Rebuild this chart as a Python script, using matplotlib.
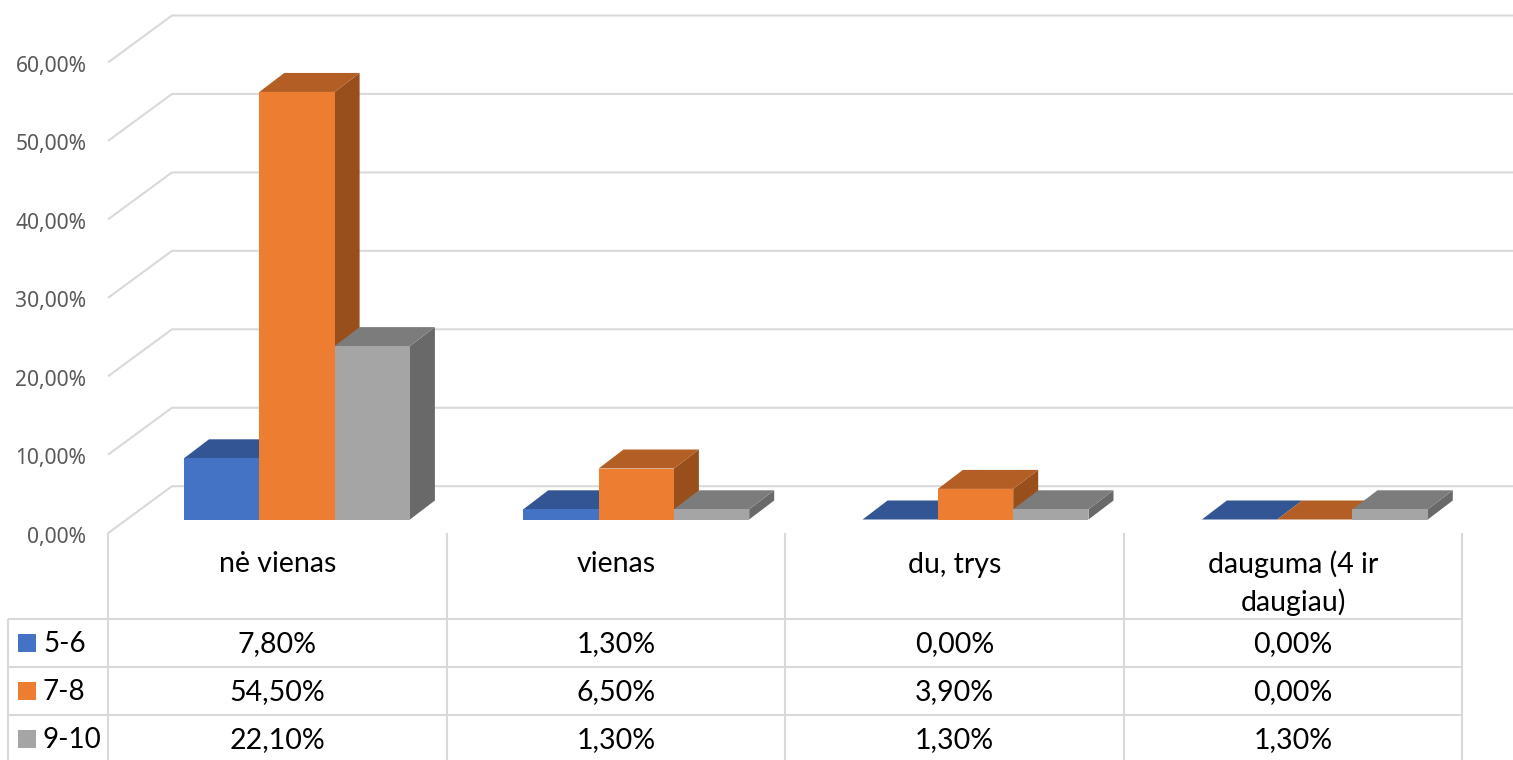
import matplotlib
matplotlib.use("Agg")
import matplotlib.pyplot as plt
from matplotlib.patches import Polygon, Rectangle

# duomenys
categories = ['nė vienas', 'vienas', 'du, trys', 'dauguma (4 ir\ndaugiau)']
series_names = ['5-6', '7-8', '9-10']
values_56 = [7.8, 1.3, 0.0, 0.0]
values_78 = [54.5, 6.5, 3.9, 0.0]
values_910 = [22.1, 1.3, 1.3, 1.3]
y_ticks = [0, 10, 20, 30, 40, 50, 60]

# front, top, side colours
colors = [('#4472C4', '#335593', '#294679'),
          ('#ED7D31', '#B25E24', '#994F1B'),
          ('#A5A5A5', '#7C7C7C', '#696969')]
GRID = '#D9D9D9'
TABLE_FONT = ['Lato', 'DejaVu Sans']
TABLE_SIZE = 20.5

plt.rcParams['font.family'] = ['Noto Sans', 'DejaVu Sans']

W, H = 1513, 760
fig = plt.figure(figsize=(W / 100, H / 100), dpi=100)

# pixel scale of the plot
PX_X0, PX_CAT = 108, 339.3
PX_Y0, PX_PCT = 519.5, 7.845
COL_W = 338.6

# chart axes: x = category number, y = percent
ax = fig.add_axes([0, 0, 1, 1])
ax.set_xlim((0 - PX_X0) / PX_CAT, (W - PX_X0) / PX_CAT)
ax.set_ylim((PX_Y0 - H) / PX_PCT, PX_Y0 / PX_PCT)
ax.axis('off')

# pixel axes for table and labels
px = fig.add_axes([0, 0, 1, 1], zorder=3)
px.set_xlim(0, W)
px.set_ylim(H, 0)
px.axis('off')
px.patch.set_alpha(0)

# wall and floor gridlines
wall_dx, wall_dy = 64 / PX_CAT, 47 / PX_PCT
floor = -13.7 / PX_PCT
for t in y_ticks:
    y = floor + t
    ax.plot([0, wall_dx, (W - PX_X0) / PX_CAT], [y, y + wall_dy, y + wall_dy],
            color=GRID, lw=1.5, solid_capstyle='butt', zorder=1)
    px.text(86.5, 542.5 - t * PX_PCT, f'{t},00%', ha='right', va='baseline',
            fontsize=15.1, color='#595959')

# 3d bars
bar_w = 75.3 / PX_CAT
first = 76 / PX_CAT
dx, dy = 25 / PX_CAT, 19 / PX_PCT
all_values = [values_56, values_78, values_910]
for s, vals in enumerate(all_values):
    front, top, side = colors[s]
    for c, v in enumerate(vals):
        x0 = c + first + s * bar_w
        x1 = x0 + bar_w
        ax.add_patch(Polygon([(x1, 0), (x1 + dx, dy), (x1 + dx, v + dy), (x1, v)],
                             fc=side, ec='none', zorder=2 + s + c * 5))
        ax.add_patch(Polygon([(x0, v), (x0 + dx, v + dy), (x1 + dx, v + dy), (x1, v)],
                             fc=top, ec='none', zorder=2 + s + c * 5))
        ax.add_patch(Rectangle((x0, 0), bar_w, v, fc=front, ec='none',
                               zorder=2.5 + s + c * 5))

# table under the chart
col_x = [PX_X0 + i * COL_W for i in range(5)]
row_y = [619, 667, 715, 763]
for x in col_x:
    px.plot([x, x], [533, H], color=GRID, lw=1.5, solid_capstyle='butt')
px.plot([8, 8], [row_y[0], H], color=GRID, lw=1.5, solid_capstyle='butt')
for y in row_y[:3]:
    px.plot([8, col_x[-1]], [y, y], color=GRID, lw=1.5, solid_capstyle='butt')

for c, name in enumerate(categories):
    cx = col_x[c] + COL_W / 2
    lines = name.split('\n')
    px.text(cx, 572.5, lines[0], ha='center', va='baseline', family=TABLE_FONT,
            fontsize=TABLE_SIZE, color='black')
    if len(lines) > 1:
        px.text(cx, 611, lines[1], ha='center', va='baseline', family=TABLE_FONT,
                fontsize=TABLE_SIZE, color='black')

for s, vals in enumerate(all_values):
    yc = (row_y[s] + row_y[s + 1]) / 2
    px.add_patch(Rectangle((18, yc - 9), 18, 18, fc=colors[s][0], ec='none'))
    px.text(43, yc + 9.5, series_names[s], ha='left', va='baseline', family=TABLE_FONT,
            fontsize=TABLE_SIZE - 0.5, color='black')
    for c, v in enumerate(vals):
        label = f'{v:.2f}%'.replace('.', ',')
        px.text(col_x[c] + COL_W / 2, yc + 9.5, label, ha='center', va='baseline',
                family=TABLE_FONT, fontsize=TABLE_SIZE, color='black')

fig.savefig('out.png', dpi=100, facecolor='white')
